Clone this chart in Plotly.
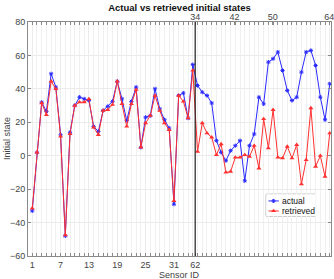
import plotly.graph_objects as go

# ---------------- data ----------------
positions = list(range(1, 65))
actual = [-33, 2, 32, 26.5, 49, 41, 12.5, -48, 14, 30,
          35, 34, 33, 17.5, 14.5, 27, 29.5, 32.5, 44.5, 34,
          21, 32.5, 41, 5, 23, 24, 40, 28, 21.5, 16.5,
          -29, 36, 37.5, 22.5, 54.5, 42, 38, 36, 31.5, 9,
          2, -3, 3, 6, 9, -15, 6, 13, 35, 31,
          56, 58, 62, 51, 39, 33, 35, 50, 62, 63,
          54, 35, 21.5, 43]
retrieved = [-31.5, 2, 31.5, 24.5, 44.5, 40, 11.5, -47.5, 13, 30,
             32, 32, 34, 17, 12.5, 27, 27.5, 30.5, 44.5, 31,
             17.5, 31, 39.5, 5, 19.5, 24, 36, 27, 19.5, 15.5,
             -27, 36, 32.5, 22.5, 51, 2.5, 19.5, 13.5, 11, 0.5,
             7, -10, -9.5, -1, -1, 0.5, -0.5, 6, -7.5, 22,
             4.5, 27.5, -1, -1.5, 5.5, -1.5, 6.5, -17, -2.5, 28.5,
             -6.5, 0, -12.5, 13.5]
bottom_tick_pos = [1, 7, 13, 19, 25, 31, 35.5]
bottom_tick_text = ["1", "7", "13", "19", "25", "31", "62"]
top_tick_pos = [35.5, 43.8, 51.9, 63.9]
top_tick_text = ["34", "42", "50", "64"]
y_ticks = [-60, -40, -20, 0, 20, 40, 60, 80]
divider = 35.5
series_names = ["actual", "retrieved"]

BLUE = "#2a2aff"
RED = "#ff3030"
AX = "#8a8a8a"
FONT = "Liberation Sans, Arial, sans-serif"

fig = go.Figure()
fig.add_trace(go.Scatter(
    x=positions, y=actual, mode="lines+markers", name=series_names[0],
    line=dict(color=BLUE, width=1),
    marker=dict(symbol="asterisk-open", size=3.5, color=BLUE,
                line=dict(width=1, color=BLUE)),
    showlegend=False))
fig.add_trace(go.Scatter(
    x=positions, y=retrieved, mode="lines+markers", name=series_names[1],
    line=dict(color=RED, width=1),
    marker=dict(symbol="triangle-up", size=4.5, color=RED),
    showlegend=False))
# dummy trace to activate the top axis
fig.add_trace(go.Scatter(x=[positions[0]], y=[None], xaxis="x2", yaxis="y",
                         showlegend=False, hoverinfo="skip"))

xrange = [0.1, 64.26]
fig.update_layout(
    width=334, height=279,
    margin=dict(l=28, r=3, t=22, b=23),
    paper_bgcolor="white", plot_bgcolor="white",
    font=dict(family=FONT, size=9, color="#444"),
    title=dict(text="<b>Actual vs retrieved initial states</b>",
               x=0.5, xref="paper", xanchor="center",
               y=1 - 7.5 / 279, yref="container", yanchor="middle",
               font=dict(size=9.5, color="#111", family=FONT)),
    xaxis=dict(range=xrange, tickvals=bottom_tick_pos, ticktext=bottom_tick_text,
               ticks="inside", ticklen=3, tickcolor=AX, automargin=False,
               showline=True, linecolor=AX, linewidth=1, mirror=False,
               showgrid=True, gridcolor="#ebebeb", zeroline=False,
               minor=dict(tickvals=positions, ticks="inside", ticklen=3,
                          tickcolor=AX, showgrid=True, gridcolor="#f0f0f0"),
               tickfont=dict(size=9, color="#444")),
    xaxis2=dict(range=xrange, overlaying="x", side="top", anchor="y",
                tickvals=top_tick_pos, ticktext=top_tick_text, automargin=False,
                ticks="inside", ticklen=3, tickcolor=AX, ticklabelstandoff=-3,
                ticklabeloverflow="allow",
                showline=True, linecolor=AX, linewidth=1,
                showgrid=False, zeroline=False,
                minor=dict(tickvals=positions, ticks="inside", ticklen=3,
                           tickcolor=AX, showgrid=False),
                tickfont=dict(size=9, color="#444")),
    yaxis=dict(range=[-60, 80], tickvals=y_ticks, automargin=False,
               ticks="inside", ticklen=3, tickcolor=AX,
               showline=True, linecolor=AX, linewidth=1, mirror="ticks",
               showgrid=True, gridcolor="#ebebeb", zeroline=False,
               tickfont=dict(size=9, color="#444")),
    # inset axes for the legend box
    xaxis3=dict(domain=[0.786, 0.949], range=[0, 49.3], visible=False, anchor="y3"),
    yaxis3=dict(domain=[0.171, 0.264], range=[0, 21.7], visible=False, anchor="x3"),
)

# axis titles
fig.add_annotation(text="Sensor ID", x=0.5, y=0, xref="paper", yref="paper",
                   yshift=-19, yanchor="middle", showarrow=False,
                   font=dict(size=9, color="#444"))
fig.add_annotation(text="Initial state", x=0, y=0.5, xref="paper", yref="paper",
                   xshift=-21, textangle=-90, showarrow=False, xanchor="center",
                   yanchor="middle", font=dict(size=9, color="#444"))

fig.add_shape(type="line", x0=divider, x1=divider, y0=0, y1=1,
              xref="x", yref="paper", line=dict(color="#222", width=1.2))

# legend box
fig.add_shape(type="rect", xref="x3 domain", yref="y3 domain", x0=0, x1=1, y0=0, y1=1,
              line=dict(color="#9a9a9a", width=1), fillcolor="white", layer="below")
leg_y = [15, 5]
leg_colors = [BLUE, RED]
leg_symbols = ["asterisk-open", "triangle-up"]
for name, yy, col, sym in zip(series_names, leg_y, leg_colors, leg_symbols):
    fig.add_trace(go.Scatter(x=[2.3, 12.6], y=[yy, yy], xaxis="x3", yaxis="y3",
                             mode="lines", line=dict(color=col, width=1),
                             showlegend=False, hoverinfo="skip"))
    fig.add_trace(go.Scatter(x=[7.4], y=[yy], xaxis="x3", yaxis="y3",
                             mode="markers",
                             marker=dict(symbol=sym, size=3.5 if sym == "asterisk-open" else 4.5,
                                         color=col,
                                         line=dict(width=1 if sym == "asterisk-open" else 0, color=col)),
                             showlegend=False, hoverinfo="skip"))
    fig.add_annotation(x=13.8, y=yy, xref="x3", yref="y3", text=name, showarrow=False,
                       xanchor="left", yanchor="middle",
                       font=dict(size=8.5, color="#111", family=FONT))

fig.write_html("out.html", post_script="document.body.style.margin='0px';",
               config={"displayModeBar": False})
